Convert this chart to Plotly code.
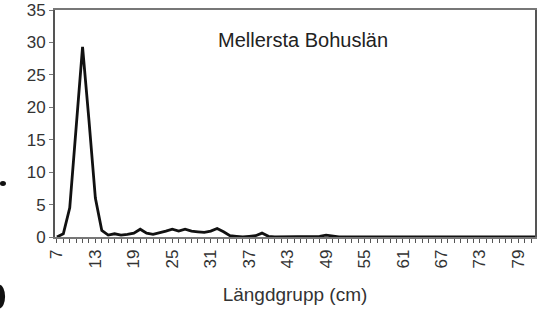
import plotly.graph_objects as go

lengths = list(range(7, 83))
values = [0, 0.5, 4.5, 17, 29.3, 18, 6, 1, 0.3, 0.5,
          0.3, 0.4, 0.6, 1.2, 0.6, 0.4, 0.6, 0.9, 1.2, 0.9,
          1.2, 0.9, 0.8, 0.7, 0.9, 1.3, 0.8, 0.2, 0.1, 0,
          0.1, 0.2, 0.6, 0.1, 0, 0, 0, 0, 0, 0,
          0, 0.1, 0.3, 0.1, 0, 0, 0, 0, 0, 0,
          0, 0, 0, 0, 0, 0, 0, 0, 0, 0,
          0, 0, 0, 0, 0, 0, 0, 0, 0, 0,
          0, 0, 0, 0, 0, 0]
tick_vals = list(range(7, 80, 6))
tick_text = [str(v) for v in tick_vals]
y_ticks = [0, 5, 10, 15, 20, 25, 30, 35]
title_text = "Mellersta Bohuslän"
x_title = "Längdgrupp (cm)"

fig = go.Figure()
fig.add_trace(go.Scatter(x=lengths, y=values[:len(lengths)], mode="lines",
                         line=dict(color="#111111", width=2.8), showlegend=False,
                         hoverinfo="skip"))

fig.update_layout(
    width=537, height=315,
    margin=dict(l=55, r=2, t=10, b=78),
    paper_bgcolor="white", plot_bgcolor="white",
    font=dict(family="Arial, Liberation Sans, sans-serif", color="#333333"),
    xaxis=dict(range=[6.7, 81.6], tickmode="array", tickvals=tick_vals, ticktext=tick_text,
               tickangle=-90, tickfont=dict(size=17, color="#333333"), automargin=False,
               ticks="outside", ticklen=4, tickcolor="#555555", tickwidth=1,
               minor=dict(dtick=1, tick0=7, ticks="outside", ticklen=4, tickcolor="#555555", tickwidth=1),
               showline=True, linecolor="#777777", linewidth=1.5, mirror=True,
               showgrid=False, zeroline=False,
               title=dict(text=x_title, font=dict(size=19, color="#333333"), standoff=20)),
    yaxis=dict(range=[0, 35], tickvals=y_ticks, tickfont=dict(size=17, color="#333333"),
               automargin=False,
               ticks="outside", ticklen=4, tickcolor="#777777",
               showline=True, linecolor="#555555", linewidth=2, mirror=True,
               showgrid=False, zeroline=False),
    annotations=[dict(text=title_text, x=0.516, y=0.868, xref="paper", yref="paper",
                      xanchor="center", yanchor="middle", showarrow=False,
                      font=dict(size=20, color="#222222"))],
    shapes=[
        dict(type="circle", xref="paper", yref="paper", x0=-0.1146, x1=-0.1021,
             y0=0.2247, y1=0.2467, fillcolor="#111111", line=dict(width=0)),
        dict(type="circle", xref="paper", yref="paper", x0=-0.128, x1=-0.104,
             y0=-0.315, y1=-0.21, fillcolor="#111111", line=dict(width=0)),
    ],
)
fig.write_html("out.html", config={"displayModeBar": False},
               post_script="document.body.style.margin='0';document.body.style.overflow='hidden';")
